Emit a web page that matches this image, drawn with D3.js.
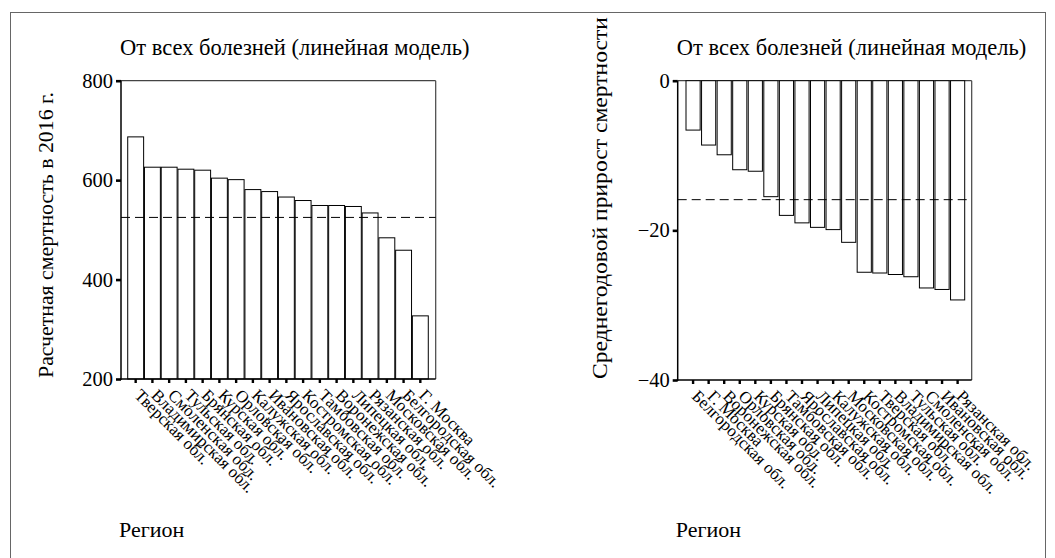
<!DOCTYPE html>
<html><head><meta charset="utf-8">
<script src="https://cdn.jsdelivr.net/npm/d3@7"></script>
</head>
<body style="margin:0"><svg id="c" width="1055" height="558"></svg>
<script>
const leftCats = ["Тверская обл.","Владимирская обл.","Смоленская обл.","Тульская обл.","Брянская обл.","Курская обл.","Орловская обл.","Калужская обл.","Ивановская обл.","Ярославская обл.","Костромская обл.","Тамбовская обл.","Воронежская обл.","Липецкая обл.","Рязанская обл.","Московская обл.","Белгородская обл.","Г. Москва"];
const leftVals = [687, 626, 626, 622, 620, 604, 601, 581, 577, 566, 559, 549, 549, 547, 534, 484, 459, 327];
const leftMean = 525;
const leftTicks = [200, 400, 600, 800];

const rightCats = ["Белгородская обл.","Г. Москва","Воронежская обл.","Орловская обл.","Курская обл.","Брянская обл.","Тамбовская обл.","Ярославская обл.","Липецкая обл.","Калужская обл.","Московская обл.","Костромская обл.","Тверская обл.","Владимирская обл.","Тульская обл.","Смоленская обл.","Ивановская обл.","Рязанская обл."];
const rightVals = [-6.6, -8.6, -9.9, -11.9, -12.1, -15.5, -18.0, -19.0, -19.6, -19.9, -21.6, -25.6, -25.7, -25.9, -26.2, -27.7, -27.9, -29.3];
const rightMean = -15.9;
const rightTicks = [-40, -20, 0];

const title = "От всех болезней (линейная модель)";
const leftYLabel = "Расчетная смертность в 2016 г.";
const rightYLabel = "Среднегодовой прирост смертности";
const xLabel = "Регион";

const FONT = '"Liberation Serif"';
const svg = d3.select("#c");
function txt(sel, size){ return sel.attr("font-family", FONT).style("font-family", FONT).style("font-size", size+"px").attr("fill","#000"); }

svg.append("rect").attr("x",10.5).attr("y",12.5).attr("width",1035).attr("height",600)
  .attr("fill","none").attr("stroke","#666").attr("stroke-width",1);

function panel(o){
  const {cats, vals, mean, ticks, domain, px0, px1, py0, py1, bx0, bx1, pad, ylab, ylabX, ylabSize, ylabLen, base} = o;
  const g = svg.append("g");
  const x = d3.scaleBand().domain(cats).range([bx0, bx1]).paddingInner(pad).paddingOuter(pad/2);
  const y = d3.scaleLinear().domain(domain).range([py1, py0]);
  g.append("line").attr("x1",px0).attr("x2",px1).attr("y1",py0).attr("y2",py0).attr("stroke","#444").attr("stroke-width",1.2);
  g.append("line").attr("x1",px1).attr("x2",px1).attr("y1",py0).attr("y2",py1).attr("stroke","#444").attr("stroke-width",1.2);
  g.selectAll("rect.bar").data(vals).join("rect")
    .attr("x",(d,i)=>x(cats[i]))
    .attr("width",x.bandwidth())
    .attr("y",d=>Math.min(y(d),y(base)))
    .attr("height",d=>Math.abs(y(d)-y(base)))
    .attr("fill","#fff").attr("stroke","#000").attr("stroke-width",1);
  g.append("line").attr("x1",px0).attr("x2",px1).attr("y1",y(mean)).attr("y2",y(mean))
    .attr("stroke","#000").attr("stroke-width",1).attr("stroke-dasharray","9,5");
  const ya = g.append("g").attr("transform",`translate(${px0},0)`)
    .call(d3.axisLeft(y).tickValues(ticks).tickSize(5).tickPadding(3).tickFormat(d3.format("d")));
  ya.attr("font-family", FONT);
  ya.select(".domain").remove();
  ya.selectAll(".tick line").attr("stroke","#000").attr("stroke-width",2.6);
  txt(ya.selectAll(".tick text"), 20.5);
  g.append("line").attr("x1",px0).attr("x2",px0).attr("y1",py0).attr("y2",py1+1).attr("stroke","#000").attr("stroke-width",1.5);
  const xa = g.append("g").attr("transform",`translate(0,${py1})`)
    .call(d3.axisBottom(x).tickSize(4).tickFormat(""));
  xa.select(".domain").remove();
  xa.selectAll(".tick line").attr("stroke","#000").attr("stroke-width",2.4);
  g.append("line").attr("x1",px0-1).attr("x2",px1).attr("y1",py1).attr("y2",py1).attr("stroke","#000").attr("stroke-width",1.5);
  txt(g.selectAll("text.xl").data(cats).join("text").attr("class","xl")
    .attr("transform",d=>`translate(${x(d)+x.bandwidth()/2+2},${py1+13}) rotate(45)`)
    .attr("dy","0.35em"), 17)
    .text(d=>d);
  txt(g.append("text").attr("x",px0-1).attr("y",55), 22.5).text(title);
  const yl = txt(g.append("text").attr("transform",`translate(${ylabX},${py1-1}) rotate(-90)`), ylabSize).text(ylab);
  if (ylabLen) yl.attr("textLength", ylabLen).attr("lengthAdjust","spacingAndGlyphs");
  txt(g.append("text").attr("x",px0-2).attr("y",537), 22).text(xLabel);
}

panel({cats:leftCats, vals:leftVals, mean:leftMean, ticks:leftTicks, domain:[200,800],
  px0:121, px1:435.7, py0:80.7, py1:379, bx0:127.3, bx1:428.7, pad:0.05,
  ylab:leftYLabel, ylabX:53, ylabSize:21.8, ylabLen:286, base:200});
panel({cats:rightCats, vals:rightVals, mean:rightMean, ticks:rightTicks, domain:[-40,0],
  px0:677.7, px1:971.7, py0:80.7, py1:380, bx0:685.3, bx1:965.4, pad:0.09,
  ylab:rightYLabel, ylabX:607, ylabSize:22, ylabLen:362, base:0});
</script></body></html>
